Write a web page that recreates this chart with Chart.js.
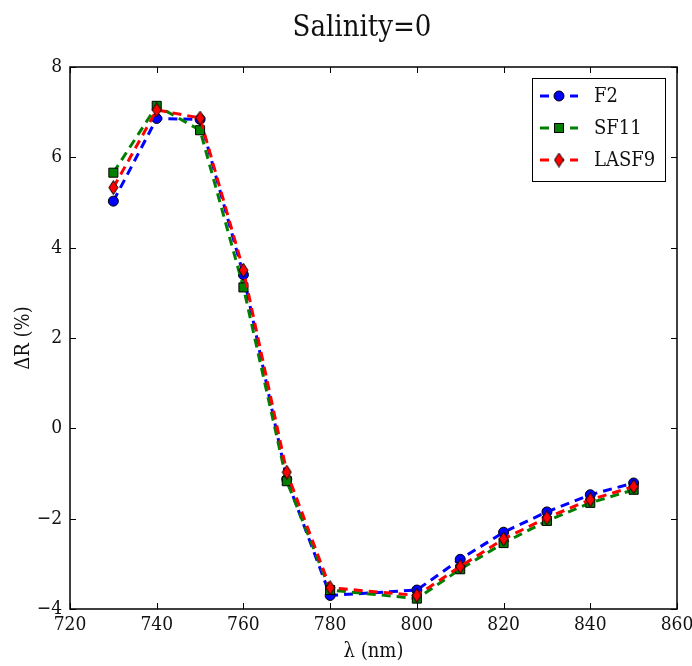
<!DOCTYPE html>
<html>
<head>
<meta charset="utf-8">
<script src="https://cdn.jsdelivr.net/npm/chart.js@4.4.1/dist/chart.umd.min.js"></script>
<style>
  html, body { margin: 0; padding: 0; background: #fff; }
  #wrap { width: 692px; height: 666px; }
</style>
</head>
<body>
<div id="wrap"><canvas id="salChart" width="692" height="666"></canvas></div>
<script>
// Values
const wavelength = [730, 740, 750, 760, 770, 780, 800, 810, 820, 830, 840, 850];
const f2Values = [5.03, 6.86, 6.84, 3.40, -1.13, -3.70, -3.58, -2.90, -2.30, -1.85, -1.47, -1.21];
const sf11Values = [5.66, 7.14, 6.60, 3.12, -1.17, -3.58, -3.77, -3.12, -2.54, -2.05, -1.65, -1.36];
const lasf9Values = [5.33, 7.05, 6.87, 3.50, -0.97, -3.53, -3.70, -3.06, -2.45, -1.98, -1.58, -1.29];
const seriesNames = ['F2', 'SF11', 'LASF9'];
const xTicks = [720, 740, 760, 780, 800, 820, 840, 860];
const yTicks = [-4, -2, 0, 2, 4, 6, 8];

const FONT = "'DejaVu Serif Condensed', 'DejaVu Serif', serif";

// thin diamond marker (matplotlib 'd')
function makeDiamond() {
    const c = document.createElement('canvas');
    c.width = 11;
    c.height = 15;
    const g = c.getContext('2d');
    g.beginPath();
    g.moveTo(5.5, 0.5);
    g.lineTo(10, 7.5);
    g.lineTo(5.5, 14.5);
    g.lineTo(1, 7.5);
    g.closePath();
    g.fillStyle = '#ff0000';
    g.fill();
    g.lineWidth = 1;
    g.strokeStyle = '#000';
    g.stroke();
    return c;
}
const diamond = makeDiamond();

function toPoints(vals) {
    return vals.map((v, i) => ({ x: wavelength[i], y: v }));
}

const DASH = [9, 6];

// frame, inward ticks on all sides, title and legend box
const decorPlugin = {
    id: 'decor',
    afterDraw(chart) {
        const ctx = chart.ctx;
        const a = chart.chartArea;
        const xs = chart.scales.x;
        const ys = chart.scales.y;
        ctx.save();
        ctx.strokeStyle = '#000';
        ctx.lineWidth = 1;
        const tl = 6;
        ctx.beginPath();
        xs.ticks.forEach(t => {
            const px = Math.round(xs.getPixelForValue(t.value)) + 0.5;
            ctx.moveTo(px, a.bottom); ctx.lineTo(px, a.bottom - tl);
            ctx.moveTo(px, a.top); ctx.lineTo(px, a.top + tl);
        });
        ys.ticks.forEach(t => {
            const py = Math.round(ys.getPixelForValue(t.value)) + 0.5;
            ctx.moveTo(a.left, py); ctx.lineTo(a.left + tl, py);
            ctx.moveTo(a.right, py); ctx.lineTo(a.right - tl, py);
        });
        ctx.stroke();
        ctx.lineWidth = 1.5;
        ctx.strokeRect(a.left, a.top, a.right - a.left, a.bottom - a.top);

        // title
        ctx.fillStyle = '#111';
        ctx.font = '29px ' + FONT;
        ctx.textAlign = 'center';
        ctx.textBaseline = 'middle';
        ctx.fillText('Salinity=0', 362, 28);

        // legend
        const bx = 532, by = 78, bw = 133, bh = 103;
        ctx.fillStyle = '#fff';
        ctx.fillRect(bx, by, bw, bh);
        ctx.lineWidth = 1;
        ctx.strokeStyle = '#000';
        ctx.strokeRect(bx + 0.5, by + 0.5, bw, bh);
        chart.data.datasets.slice().sort((p, q) => p.legendIndex - q.legendIndex).forEach((ds, i) => {
            const ry = 96 + i * 32;
            ctx.strokeStyle = ds.borderColor;
            ctx.lineWidth = 3;
            ctx.setLineDash(DASH);
            ctx.beginPath();
            ctx.moveTo(540, ry);
            ctx.lineTo(578, ry);
            ctx.stroke();
            ctx.setLineDash([]);
            const mx = 559;
            ctx.lineWidth = 1;
            ctx.strokeStyle = '#000';
            ctx.fillStyle = ds.pointBackgroundColor;
            if (ds.pointStyle === 'circle') {
                ctx.beginPath();
                ctx.arc(mx, ry, 5, 0, Math.PI * 2);
                ctx.fill();
                ctx.stroke();
            } else if (ds.pointStyle === 'rect') {
                ctx.fillRect(mx - 4.5, ry - 4.5, 9, 9);
                ctx.strokeRect(mx - 4.5, ry - 4.5, 9, 9);
            } else {
                ctx.drawImage(ds.pointStyle, mx - 5.5, ry - 7.5);
            }
            ctx.fillStyle = '#111';
            ctx.font = '20px ' + FONT;
            ctx.textAlign = 'left';
            ctx.textBaseline = 'middle';
            ctx.fillText(ds.label, 594, ry + 1);
        });
        ctx.restore();
    }
};

Chart.defaults.color = '#111';
Chart.defaults.font.family = FONT;

const ctx = document.getElementById('salChart').getContext('2d');
new Chart(ctx, {
    type: 'line',
    data: {
        datasets: [
            {
                label: seriesNames[0], legendIndex: 0, order: 2,
                data: toPoints(f2Values),
                borderColor: '#0000ff', pointBackgroundColor: '#0000ff',
                pointStyle: 'circle', pointRadius: 5
            },
            {
                label: seriesNames[1], legendIndex: 1, order: 1,
                data: toPoints(sf11Values),
                borderColor: '#008000', pointBackgroundColor: '#008000',
                pointStyle: 'rect', pointRadius: 6.4
            },
            {
                label: seriesNames[2], legendIndex: 2, order: 0,
                data: toPoints(lasf9Values),
                borderColor: '#ff0000', pointBackgroundColor: '#ff0000',
                pointStyle: diamond, pointRadius: 7
            }
        ].map(d => Object.assign(d, {
            borderWidth: 3,
            borderDash: DASH,
            fill: false,
            tension: 0,
            pointBorderColor: '#000',
            pointBorderWidth: 1,
            pointHoverRadius: d.pointRadius
        }))
    },
    options: {
        responsive: false,
        animation: false,
        events: [],
        layout: { padding: { top: 67, right: 15, bottom: 0, left: 0 } },
        plugins: {
            legend: { display: false },
            tooltip: { enabled: false },
            title: { display: false }
        },
        scales: {
            x: {
                type: 'linear',
                min: 720,
                max: 860,
                afterBuildTicks: s => { s.ticks = xTicks.map(v => ({ value: v })); },
                afterFit: s => { s.height = 57; s.paddingLeft = 0; s.paddingRight = 0; },
                grid: { display: false, drawTicks: false },
                border: { display: false },
                ticks: {
                    padding: 5,
                    font: { size: 19 },
                    color: '#111',
                    maxRotation: 0,
                    callback: v => String(v)
                },
                title: {
                    display: true,
                    text: 'λ (nm)',
                    font: { size: 20 },
                    color: '#111',
                    padding: { top: 0, bottom: 2 }
                }
            },
            y: {
                type: 'linear',
                min: -4,
                max: 8,
                afterBuildTicks: s => { s.ticks = yTicks.map(v => ({ value: v })); },
                afterFit: s => { s.width = 70; s.paddingTop = 0; s.paddingBottom = 0; },
                grid: { display: false, drawTicks: false },
                border: { display: false },
                ticks: {
                    padding: 8,
                    font: { size: 19 },
                    color: '#111',
                    callback: v => String(v).replace('-', '\u2212')
                },
                title: {
                    display: true,
                    text: 'ΔR (%)',
                    font: { size: 20 },
                    color: '#111',
                    padding: { top: 12, bottom: 0 }
                }
            }
        }
    },
    plugins: [decorPlugin]
});
</script>
</body>
</html>
